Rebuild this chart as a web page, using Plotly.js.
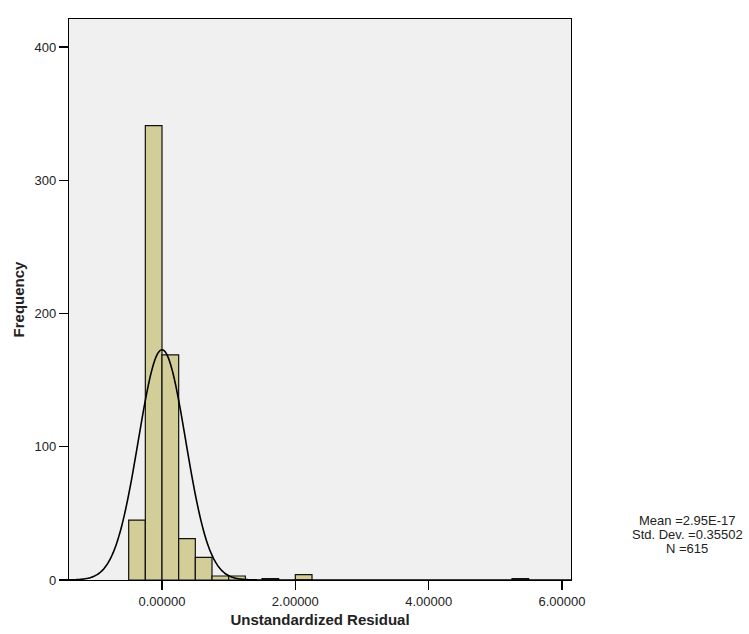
<!DOCTYPE html>
<html>
<head>
<meta charset="utf-8">
<script src="https://cdn.plot.ly/plotly-3.0.1.min.js"></script>
<style>html,body{margin:0;padding:0;background:#fff;}#chart{width:749px;height:634px;}</style>
</head>
<body>
<div id="chart"></div>
<script>
// Histogram bins (lower edges) and counts
var binStart = [-0.5, -0.25, 0.0, 0.25, 0.5, 0.75, 1.0, 1.5, 2.0, 5.25];
var counts   = [45, 341, 169, 31, 17, 3, 3, 1, 4, 1];
var binWidth = 0.25;

// Summary statistics shown on the chart
var statMean = 2.95e-17;
var statSD = 0.35502;
var statN = 615;
var statLines = ["Mean =2.95E-17", "Std. Dev. =0.35502", "N =615"];

// Tick labels
var xTickVals = [0, 2, 4, 6];
var xTickText = ["0.00000", "2.00000", "4.00000", "6.00000"];
var yTickVals = [0, 100, 200, 300, 400];

var xCenters = binStart.map(function(s){ return s + binWidth/2; });

// Fitted normal curve (defined by the displayed mean, SD, N and bin width)
var curveX = [], curveY = [];
for (var i = 0; i <= 400; i++) {
  var x = -1.395 + (6.135 + 1.395) * i / 400;
  curveX.push(x);
  var z = (x - statMean) / statSD;
  curveY.push(statN * binWidth / (statSD * Math.sqrt(2*Math.PI)) * Math.exp(-0.5*z*z));
}

var traces = [
  {
    type: 'bar', x: xCenters, y: counts, width: binWidth,
    marker: {color: '#d3ce98', line: {color: '#111111', width: 1.2}},
    hoverinfo: 'x+y', showlegend: false
  },
  {
    type: 'scatter', mode: 'lines', x: curveX, y: curveY,
    line: {color: '#000000', width: 1.6, shape: 'spline'},
    hoverinfo: 'skip', showlegend: false
  }
];

var statY = [520, 534, 548];
var annotations = statLines.map(function(t, k){
  return {
    xref: 'paper', yref: 'paper',
    x: 1 + (687 - 571) / 502, y: (580 - statY[k]) / 561,
    xanchor: 'center', yanchor: 'middle', align: 'center',
    showarrow: false, text: t,
    font: {size: 13, color: '#222'}
  };
});

var layout = {
  width: 749, height: 634,
  margin: {l: 69, r: 178, t: 19, b: 54, pad: 0},
  paper_bgcolor: '#ffffff',
  plot_bgcolor: '#f0f0f0',
  bargap: 0,
  font: {family: 'Arial, Liberation Sans, sans-serif', size: 13, color: '#222222'},
  xaxis: {
    range: [-1.395, 6.135],
    tickvals: xTickVals, ticktext: xTickText,
    ticks: 'outside', ticklen: 9, tickwidth: 1.2, tickcolor: '#000',
    showline: true, linecolor: '#000', linewidth: 1.2, mirror: true,
    showgrid: false, zeroline: false,
    tickfont: {size: 13, color: '#222'},
    title: {text: 'Unstandardized Residual', font: {size: 15, color: '#222', weight: 'bold'}, standoff: 6}
  },
  yaxis: {
    range: [0, 421],
    tickvals: yTickVals,
    ticks: 'outside', ticklen: 9, tickwidth: 1.2, tickcolor: '#000',
    showline: true, linecolor: '#000', linewidth: 1.2, mirror: true,
    showgrid: false, zeroline: false,
    tickfont: {size: 13, color: '#222'},
    title: {text: 'Frequency', font: {size: 15, color: '#222', weight: 'bold'}, standoff: 6}
  },
  annotations: annotations
};

Plotly.newPlot('chart', traces, layout, {displayModeBar: false, staticPlot: true});
</script>
</body>
</html>
